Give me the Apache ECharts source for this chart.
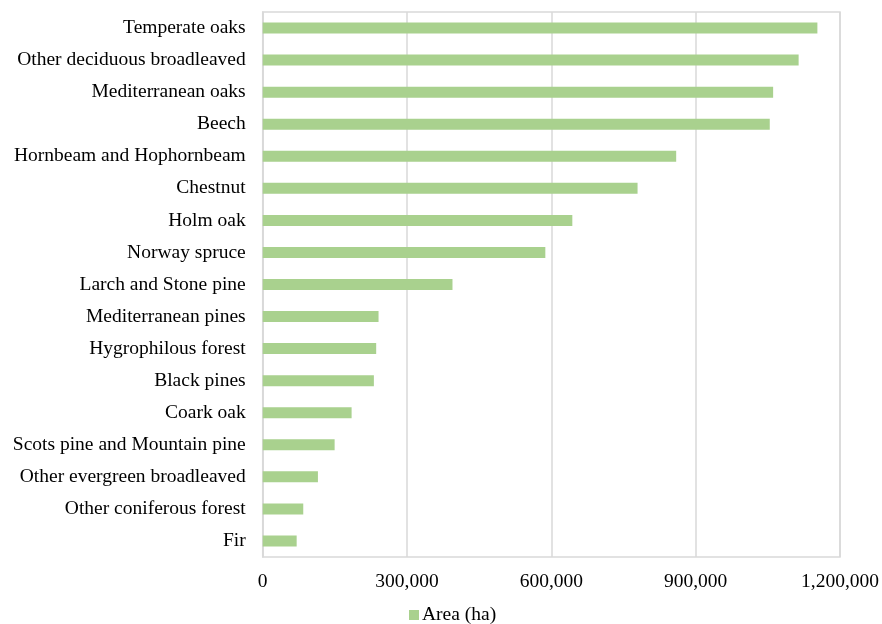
<!DOCTYPE html>
<html><head><meta charset="utf-8">
<script src="https://cdn.jsdelivr.net/npm/echarts@6/dist/echarts.min.js"></script>
<style>html,body{margin:0;padding:0;background:#fff}#c{width:882px;height:624px}</style>
</head><body><div id="c"></div>
<script>
const categories = ["Temperate oaks","Other deciduous broadleaved","Mediterranean oaks","Beech","Hornbeam and Hophornbeam","Chestnut","Holm oak","Norway spruce","Larch and Stone pine","Mediterranean pines","Hygrophilous forest","Black pines","Coark oak","Scots pine and Mountain pine","Other evergreen broadleaved","Other coniferous forest","Fir"];
const areaValues = [1153000,1114000,1061000,1054000,859500,779200,643600,587500,394500,240800,235900,231100,184800,149500,114800,84300,70600];
const seriesName = "Area (ha)";
const chart = echarts.init(document.getElementById('c'));
const font = '"Liberation Serif","Times New Roman",serif';
const fs = 19.5;
chart.setOption({
  animation:false,
  grid:{left:262.7,right:41.3,top:12,bottom:67,show:true,borderColor:'#d9d9d9',borderWidth:1.5,containLabel:false},
  legend:{bottom:-6,left:404,icon:'rect',itemWidth:10,itemHeight:10,itemGap:4,textStyle:{fontFamily:font,fontSize:fs,color:'#000',padding:[0,0,0,-2]},data:[seriesName]},
  xAxis:{type:'value',min:0,max:1200000,interval:300000,
    axisLine:{show:false},axisTick:{show:false},
    splitLine:{lineStyle:{color:'#d9d9d9',width:1.5}},
    axisLabel:{fontFamily:font,fontSize:fs,color:'#000',margin:15,
      formatter:v=>v.toLocaleString('en-US')}},
  yAxis:{type:'category',data:categories,inverse:true,
    axisLine:{show:true,lineStyle:{color:'#d9d9d9',width:1.5}},axisTick:{show:false},
    axisLabel:{fontFamily:font,fontSize:fs,color:'#000',margin:17,padding:[4,0,0,0]}},
  series:[{name:seriesName,type:'bar',data:areaValues,barWidth:11,
    itemStyle:{color:'#a9d18e'}}]
});
</script></body></html>
